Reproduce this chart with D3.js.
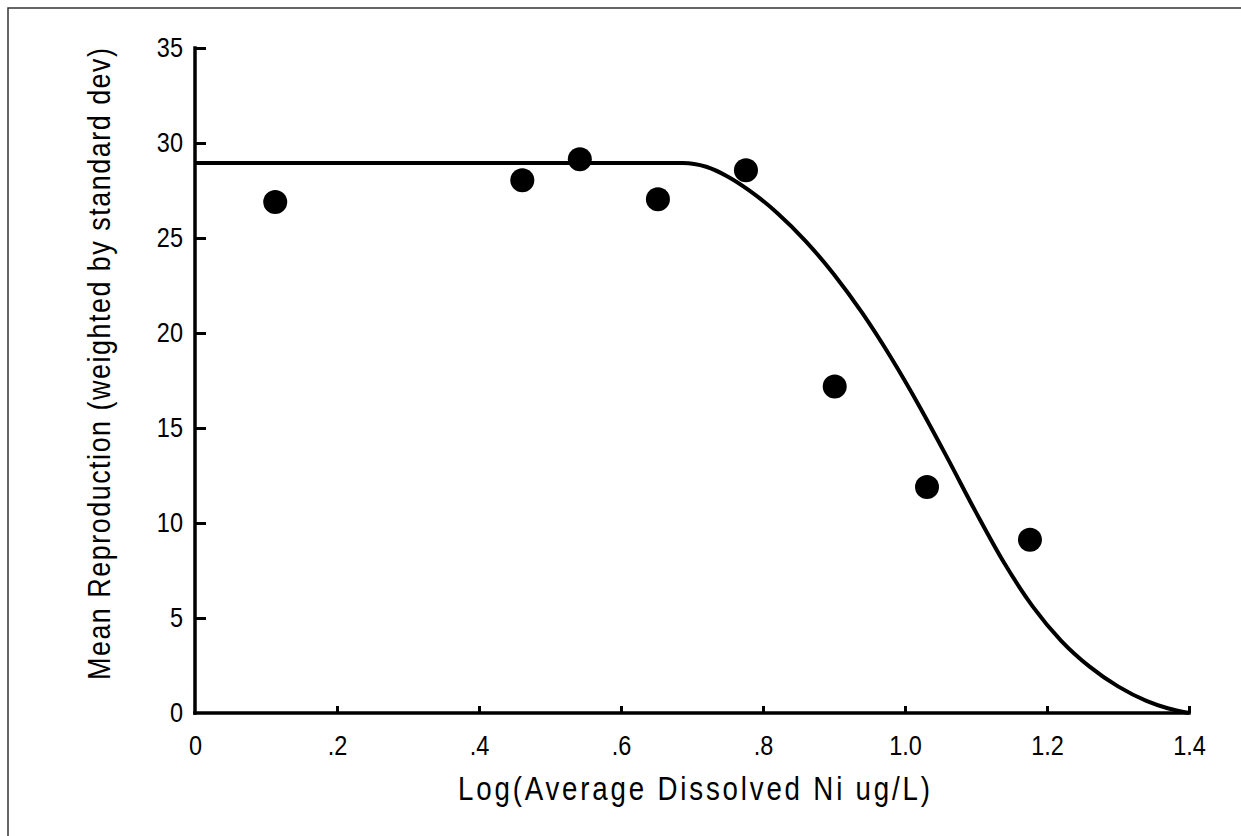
<!doctype html>
<html lang="en">
<head>
    <meta charset="utf-8">
    <title>Mean Reproduction vs Log Ni</title>
    <style type="text/css">
        html, body {
            margin: 0;
            width: 100%;
            height: 100%;
            background-color: #fff;
            overflow: hidden;
        }
        text {
            font-family: "Liberation Sans", Arial, sans-serif;
            fill: #000;
        }
    </style>
</head>
<body>
    <svg id="chart" width="1241" height="836"></svg>

    <script src="https://cdn.jsdelivr.net/npm/d3@7"></script>
    <script>
        // observed points
        const logNi = [0.113, 0.461, 0.542, 0.652, 0.776, 0.901, 1.031, 1.176];
        const repro = [26.9, 28.04, 29.15, 27.04, 28.57, 17.19, 11.9, 9.12];

        // fitted curve
        const fitX = [0, 0.687, 0.72, 0.75, 0.78, 0.82, 0.86, 0.90, 0.94, 0.98, 1.02, 1.06, 1.10, 1.14, 1.18, 1.22, 1.26, 1.30, 1.34, 1.37, 1.40];
        const fitY = [28.95, 28.95, 28.75, 28.24, 27.52, 26.32, 24.84, 23.08, 21.04, 18.72, 16.16, 13.4, 10.56, 7.88, 5.6, 3.8, 2.44, 1.4, 0.64, 0.25, 0];

        const xTicks = [0, 0.2, 0.4, 0.6, 0.8, 1.0, 1.2, 1.4];
        const xTickLabels = ["0", ".2", ".4", ".6", ".8", "1.0", "1.2", "1.4"];
        const yTicks = [0, 5, 10, 15, 20, 25, 30, 35];

        const narrow = 0.84; // squeeze glyphs to look like a narrow face

        const svg = d3.select("#chart");

        // outer frame (top and left edges)
        svg.append("path")
            .attr("d", "M8,836 L8,8 L1241,8")
            .attr("fill", "none")
            .attr("stroke", "#333")
            .attr("stroke-width", 1.5);

        const x = d3.scaleLinear().domain([0, 1.4]).range([195, 1189]);
        const y = d3.scaleLinear().domain([0, 35]).range([713, 48]);

        // x axis
        const xAxis = svg.append("g")
            .attr("transform", `translate(0,${y(0)})`)
            .call(d3.axisBottom(x)
                .tickValues(xTicks)
                .tickFormat((d, i) => xTickLabels[i])
                .tickSizeInner(-7)
                .tickSizeOuter(0)
                .tickPadding(22));
        xAxis.select(".domain").attr("stroke-width", 3.5).attr("d", `M${x(0) - 1.75},0H${x(1.4) + 1.75}`);
        xAxis.selectAll(".tick line").attr("stroke-width", 3);
        xAxis.selectAll(".tick text")
            .attr("font-size", 28)
            .attr("dy", "0.71em")
            .attr("transform", `scale(${narrow},1)`);

        // y axis
        const yAxis = svg.append("g")
            .attr("transform", `translate(${x(0)},0)`)
            .call(d3.axisLeft(y)
                .tickValues(yTicks)
                .tickSizeInner(-11)
                .tickSizeOuter(0)
                .tickPadding(12));
        yAxis.select(".domain").attr("stroke-width", 3.5).attr("d", `M0,${y(35) - 1.75}V${y(0) + 1.75}`);
        yAxis.selectAll(".tick line").attr("stroke-width", 3);
        yAxis.selectAll(".tick text")
            .attr("font-size", 28)
            .attr("x", -12 / narrow)
            .attr("transform", `scale(${narrow},1)`);
        yAxis.selectAll(".tick").filter(d => d === 0).select("line").remove();
        xAxis.selectAll(".tick").filter(d => d === 0).select("line").remove();

        // axis titles
        svg.append("text")
            .attr("transform", `translate(694,800) scale(${narrow},1)`)
            .attr("text-anchor", "middle")
            .attr("font-size", 33)
            .attr("textLength", 472 / narrow)
            .attr("lengthAdjust", "spacing")
            .text("Log(Average Dissolved Ni ug/L)");

        svg.append("text")
            .attr("transform", `translate(110,364) rotate(-90) scale(${narrow},1)`)
            .attr("text-anchor", "middle")
            .attr("font-size", 32)
            .attr("textLength", 632 / narrow)
            .attr("lengthAdjust", "spacing")
            .text("Mean Reproduction (weighted by standard dev)");

        // fitted curve
        const fit = fitX.map((d, i) => [d, fitY[i]]);
        svg.append("path")
            .datum(fit)
            .attr("fill", "none")
            .attr("stroke", "#000")
            .attr("stroke-width", 4)
            .attr("d", d3.line()
                .x(d => x(d[0]))
                .y(d => y(d[1]))
                .curve(d3.curveMonotoneX));

        // points
        svg.append("g")
            .selectAll("circle")
            .data(logNi.map((d, i) => [d, repro[i]]))
            .enter().append("circle")
            .attr("cx", d => x(d[0]))
            .attr("cy", d => y(d[1]))
            .attr("r", 12)
            .attr("fill", "#000");
    </script>
</body>
</html>
